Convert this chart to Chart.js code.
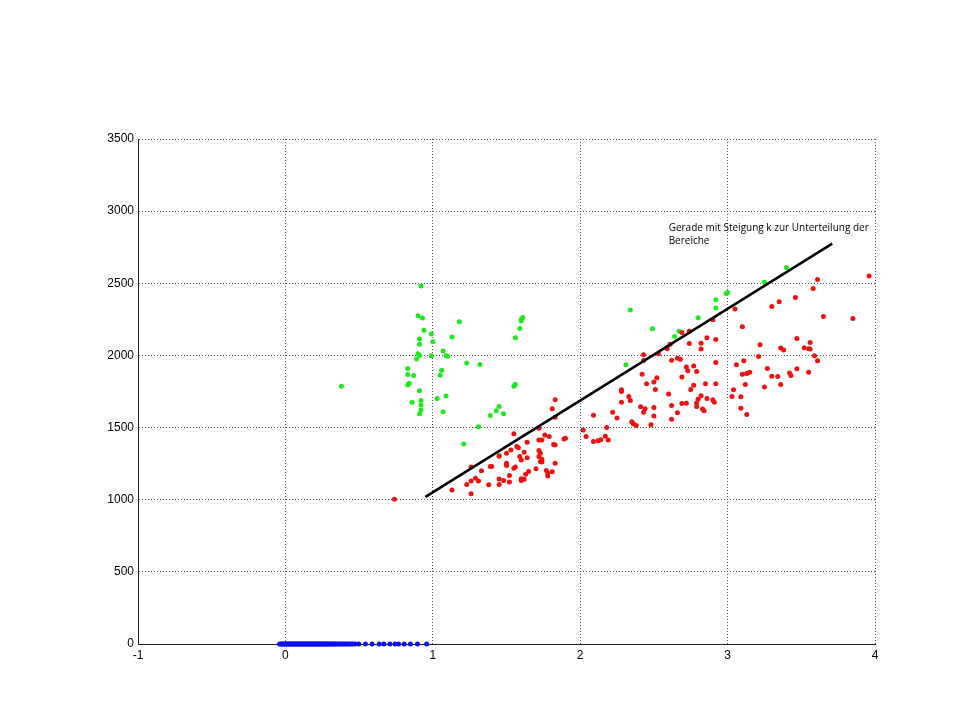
<!DOCTYPE html>
<html>
<head>
<meta charset="utf-8">
<script src="https://cdn.jsdelivr.net/npm/chart.js@4/dist/chart.umd.min.js"></script>
<style>
  html, body { margin: 0; padding: 0; background: #fff; }
  canvas { display: block; }
</style>
</head>
<body>
<canvas id="plot" width="960" height="720"></canvas>
<script>
// data
const xTicks = [-1, 0, 1, 2, 3, 4];
const yTicks = [0, 500, 1000, 1500, 2000, 2500, 3000, 3500];

const greenPts = [
  [0.92,2481],[0.90,2275],[0.93,2259],[1.18,2233],[0.94,2175],[0.99,2148],[1.13,2127],[0.91,2113],
  [1.00,2094],[0.91,2078],[1.07,2030],[1.09,1997],[1.10,1995],[0.90,2011],[0.91,2000],[0.89,1976],
  [0.99,1997],[1.23,1947],[1.32,1937],[0.83,1909],[1.06,1898],[0.83,1868],[0.87,1861],[1.05,1863],
  [0.84,1808],[0.83,1795],[0.38,1787],[0.91,1755],[1.03,1701],[1.09,1718],[0.86,1676],[0.92,1687],
  [0.92,1657],[0.92,1621],[0.91,1595],[1.07,1609],[1.31,1505],[1.21,1387],[1.45,1306],[1.39,1583],
  [1.43,1616],[1.45,1646],[1.48,1595],[1.55,1787],[1.56,1801],[1.56,2122],[1.59,2187],[1.60,2249],
  [1.61,2263],[1.60,2238],
  [2.34,2314],[2.31,1935],[2.49,2185],[2.64,2131],[2.67,2168],[2.80,2261],[2.92,2386],[2.92,2328],
  [2.99,2429],[3.00,2436],[3.25,2508],[3.40,2610]
];

const redPts = [
  [0.74,1003],
  [1.83,1692],[1.81,1630],[1.83,1572],[2.09,1586],[2.02,1484],[2.04,1438],[2.09,1403],[2.12,1408],
  [1.72,1496],[1.55,1458],[1.76,1449],[1.79,1438],[1.90,1426],[1.89,1420],[1.72,1413],[1.74,1413],
  [1.64,1399],[1.82,1382],[1.83,1380],[1.57,1368],[1.58,1361],[1.53,1345],[1.50,1322],[1.62,1329],
  [1.72,1341],[1.73,1322],[1.59,1299],[1.60,1276],[1.64,1290],[1.72,1299],[1.74,1281],[1.74,1262],
  [1.73,1264],[1.45,1302],[1.50,1253],[1.50,1237],[1.55,1218],[1.56,1227],[1.83,1253],[1.70,1214],
  [1.65,1195],[1.63,1177],[1.77,1202],[1.78,1186],[1.81,1193],[1.78,1165],[1.60,1146],[1.60,1133],
  [1.62,1142],[1.52,1167],[1.45,1144],[1.48,1133],[1.52,1123],[1.45,1105],[1.38,1103],[1.39,1230],
  [1.40,1230],[1.33,1200],[1.29,1149],[1.31,1130],[1.26,1130],[1.23,1105],[1.26,1227],[1.13,1068],
  [1.26,1042],
  [3.96,2550],[3.85,2256],[3.61,2527],[3.58,2464],[3.65,2270],[3.46,2402],[3.35,2372],[3.30,2339],
  [3.05,2321],[3.10,2198],[2.90,2247],[2.69,2159],[2.74,2168],[2.61,2078],[2.74,2083],[2.86,2122],
  [2.82,2085],[2.92,2110],[2.82,2044],[2.59,2046],[2.53,2011],[2.43,2004],[2.43,1965],[2.62,1967],
  [2.66,1981],[2.68,1974],[2.92,1951],[2.72,1919],[2.73,1893],[2.77,1926],[2.79,1888],[2.69,1850],
  [2.42,1870],[2.52,1845],[2.50,1815],[2.45,1803],[2.51,1764],[2.77,1794],[2.85,1803],[2.92,1803],
  [2.75,1764],[2.60,1732],[2.82,1720],[2.80,1697],[2.79,1671],[2.79,1646],[2.86,1701],[2.90,1692],
  [2.91,1676],[2.83,1628],[2.84,1616],[2.69,1667],[2.72,1669],[2.62,1653],[2.66,1602],[2.62,1558],
  [2.48,1519],[2.50,1639],[2.50,1581],[2.44,1630],[2.43,1607],[2.41,1644],[2.35,1540],[2.36,1526],
  [2.38,1514],[2.33,1715],[2.34,1687],[2.28,1676],[2.28,1762],[2.28,1750],[2.22,1607],[2.25,1567],
  [2.18,1500],[2.14,1415],[2.17,1440],[2.19,1413],
  [3.22,2074],[3.21,1993],[3.06,1935],[3.11,1963],[3.10,1870],[3.13,1874],[3.15,1884],[3.12,1799],
  [3.04,1762],[3.03,1715],[3.09,1713],[3.09,1634],[3.13,1590],[3.25,1782],[3.27,1909],[3.30,1856],
  [3.34,1854],[3.36,1799],[3.42,1879],[3.43,1861],[3.47,1907],[3.55,1884],[3.47,2117],[3.52,2053],
  [3.55,2046],[3.56,2044],[3.56,2090],[3.36,2051],[3.38,2037],[3.59,1997],[3.61,1963]
];

// blue points all sit on y = 0
const blueX = [
  -0.04,-0.03,-0.025,-0.02,-0.012,-0.005,0.0,0.006,0.011,0.018,0.024,0.03,0.037,0.041,0.048,0.055,
  0.061,0.066,0.074,0.08,0.087,0.092,0.1,0.106,0.113,0.119,0.126,0.131,0.139,0.145,0.152,0.158,
  0.165,0.171,0.178,0.184,0.19,0.197,0.204,0.21,0.217,0.223,0.231,0.236,0.244,0.25,0.257,0.263,
  0.27,0.277,0.284,0.29,0.297,0.305,0.312,0.32,0.327,0.335,0.343,0.35,0.36,0.368,0.377,0.386,
  0.395,0.405,0.414,0.425,0.436,0.448,0.46,0.474,0.498,0.543,0.588,0.637,0.668,0.709,0.744,0.768,
  0.806,0.848,0.896,0.958
];

const divLine = [[0.95, 1020], [3.71, 2775]];
const noteLines = ['Gerade mit Steigung k zur Unterteilung der', 'Bereiche'];
const notePos = [2.6, 2862];

function toXY(arr) {
  return arr.map(p => ({ x: p[0], y: p[1] }));
}

const notePlugin = {
  id: 'note',
  afterDatasetsDraw(chart) {
    const ctx = chart.ctx;
    const px = chart.scales.x.getPixelForValue(notePos[0]);
    const py = chart.scales.y.getPixelForValue(notePos[1]);
    ctx.save();
    ctx.font = '10px "Open Sans"';
    ctx.fillStyle = '#000';
    ctx.textBaseline = 'alphabetic';
    noteLines.forEach((t, i) => ctx.fillText(t, px, py + i * 13));
    ctx.restore();
  }
};

const gridOpts = { color: '#555', lineWidth: 1, drawTicks: false };
const borderOpts = { display: true, color: '#222', width: 1, dash: [1, 2] };
const tickFont = { family: '"Liberation Sans", Arial, sans-serif', size: 12 };

new Chart(document.getElementById('plot'), {
  type: 'scatter',
  data: {
    datasets: [
      {
        label: 'Gerade',
        data: toXY(divLine),
        showLine: true,
        borderColor: '#000',
        borderWidth: 2.5,
        pointRadius: 0
      },
      {
        label: 'rot',
        data: toXY(redPts),
        backgroundColor: '#f01010',
        borderWidth: 0,
        pointRadius: 2.5
      },
      {
        label: 'gruen',
        data: toXY(greenPts),
        backgroundColor: '#1ee81e',
        borderWidth: 0,
        pointRadius: 2.5
      },
      {
        label: 'blau',
        data: blueX.map(x => ({ x: x, y: 0 })),
        backgroundColor: '#1010ee',
        borderWidth: 0,
        pointRadius: 2.5
      }
    ]
  },
  options: {
    responsive: false,
    animation: false,
    clip: false,
    layout: { padding: { left: 0, right: 85, top: 139, bottom: 0 } },
    plugins: {
      legend: { display: false },
      tooltip: { enabled: false }
    },
    scales: {
      x: {
        type: 'linear',
        min: -1,
        max: 4,
        afterBuildTicks: s => { s.ticks = xTicks.map(v => ({ value: v })); },
        afterFit: s => { s.height = 76; },
        ticks: { color: '#000', font: tickFont, padding: 4, callback: v => String(v) },
        grid: gridOpts,
        border: borderOpts
      },
      y: {
        type: 'linear',
        min: 0,
        max: 3500,
        afterBuildTicks: s => { s.ticks = yTicks.map(v => ({ value: v })); },
        afterFit: s => { s.width = 138; },
        ticks: { color: '#000', font: tickFont, padding: 4, callback: v => String(v) },
        grid: gridOpts,
        border: borderOpts
      }
    }
  },
  plugins: [notePlugin]
});
</script>
</body>
</html>
